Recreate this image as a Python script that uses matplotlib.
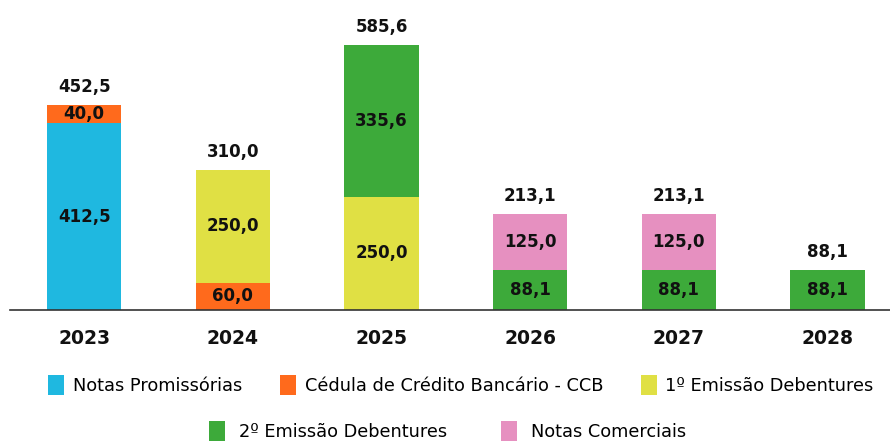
import numpy as np
import matplotlib.pyplot as plt
from matplotlib.patches import Patch

# data
years = ['2023', '2024', '2025', '2026', '2027', '2028']
notas_prom = [412.5, 0, 0, 0, 0, 0]
ccb = [40.0, 60.0, 0, 0, 0, 0]
deb1 = [0, 250.0, 250.0, 0, 0, 0]
deb2 = [0, 0, 335.6, 88.1, 88.1, 88.1]
notas_com = [0, 0, 0, 125.0, 125.0, 0]
totals = [452.5, 310.0, 585.6, 213.1, 213.1, 88.1]

# stacking order (bottom to top)
series = [
    ('Notas Promissórias', notas_prom, '#1fb8e0'),
    ('Cédula de Crédito Bancário - CCB', ccb, '#ff6a1c'),
    ('1º Emissão Debentures', deb1, '#e0e044'),
    ('2º Emissão Debentures', deb2, '#3daa3a'),
    ('Notas Comerciais', notas_com, '#e690c0'),
]

fig = plt.figure(figsize=(8.9, 4.41), dpi=100)
ax = fig.add_axes([0.011, 0.297, 0.989, 0.703])

x = np.arange(len(years))
bottom = np.zeros(len(years))
handles = {}
for name, vals, color in series:
    vals = np.array(vals)
    ax.bar(x, vals, width=0.5, bottom=bottom, color=color)
    handles[name] = Patch(facecolor=color)
    for xi, v, b in zip(x, vals, bottom):
        if v > 0:
            ax.text(xi, b + v / 2, f'{v:.1f}'.replace('.', ','), ha='center', va='center',
                    fontsize=12, fontweight='bold', color='#111111')
    bottom += vals

for xi, t in zip(x, totals):
    ax.text(xi, t + 20, f'{t:.1f}'.replace('.', ','), ha='center', va='bottom',
            fontsize=12, fontweight='semibold', color='#111111')

ax.set_xlim(-0.5, 5.42)
ax.set_ylim(0, 685)
for s in ['top', 'left', 'right']:
    ax.spines[s].set_visible(False)
ax.spines['bottom'].set_color('#333333')
ax.spines['bottom'].set_linewidth(1.2)
ax.set_yticks([])
ax.set_xticks(x)
ax.set_xticklabels(years, fontsize=13.5, fontweight='heavy', color='#111111')
ax.tick_params(axis='x', length=0, pad=14)

names = [s[0] for s in series]
fig.legend([handles[n] for n in names[:3]], names[:3], loc='center', bbox_to_anchor=(0.518, 0.127),
           ncol=3, frameon=False, fontsize=12.8, handlelength=0.9, handleheight=1.4,
           handletextpad=0.5, columnspacing=2.1)
fig.legend([handles[n] for n in names[3:]], names[3:], loc='center', bbox_to_anchor=(0.503, 0.022),
           ncol=2, frameon=False, fontsize=12.8, handlelength=0.9, handleheight=1.4,
           handletextpad=0.8, columnspacing=3.0)

fig.savefig('out.png', dpi=100)
